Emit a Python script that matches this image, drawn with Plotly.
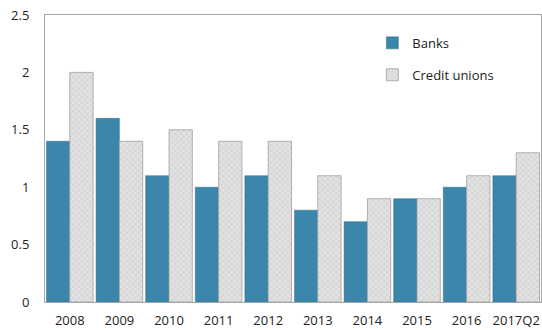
import plotly.graph_objects as go

categories = ["2008", "2009", "2010", "2011", "2012", "2013", "2014", "2015", "2016", "2017Q2"]
banks = [1.4, 1.6, 1.1, 1.0, 1.1, 0.8, 0.7, 0.9, 1.0, 1.1]
credit_unions = [2.0, 1.4, 1.5, 1.4, 1.4, 1.1, 0.9, 0.9, 1.1, 1.3]
y_ticks = [0, 0.5, 1, 1.5, 2, 2.5]
y_tick_labels = ["0", "0.5", "1", "1.5", "2", "2.5"]

fig = go.Figure()
fig.add_trace(go.Bar(
    x=categories, y=banks, name="Banks",
    marker=dict(color="#3b86aa", line=dict(color="#2f6f8e", width=0.5)),
    legendgroup="a",
))
fig.add_trace(go.Bar(
    x=categories, y=credit_unions, name="Credit unions",
    marker=dict(color="#d9d9d9", line=dict(color="#a0a0a0", width=0.8),
                pattern=dict(shape="x", fgcolor="#b5b5b5", bgcolor="#e2e2e2", size=4, solidity=0.3)),
    legendgroup="b",
))

fig.update_layout(
    width=542, height=330,
    margin=dict(l=45, r=1, t=15, b=28, autoexpand=False),
    paper_bgcolor="white", plot_bgcolor="white",
    barmode="group", bargap=0.06, bargroupgap=0.0,
    font=dict(family="Open Sans, Lato, sans-serif", size=13, color="#222"),
    legend=dict(x=0.66, y=0.955, xanchor="left", yanchor="top",
                bgcolor="rgba(0,0,0,0)", font=dict(size=13),
                tracegroupgap=12, itemwidth=30),
    showlegend=True,
)
fig.update_xaxes(
    showline=True, linecolor="#a6a6a6", linewidth=1, mirror=True,
    ticks="", tickfont=dict(size=13), ticklabelstandoff=6, automargin=False,
)
fig.update_yaxes(
    range=[0, 2.5], tickvals=y_ticks, ticktext=y_tick_labels,
    showgrid=False, zeroline=False,
    showline=True, linecolor="#a6a6a6", linewidth=1, mirror=True,
    ticks="", tickfont=dict(size=13), ticklabelstandoff=12, automargin=False,
)

fig.write_html("out.html", config={"displayModeBar": False},
               post_script="document.body.style.margin='0';")
